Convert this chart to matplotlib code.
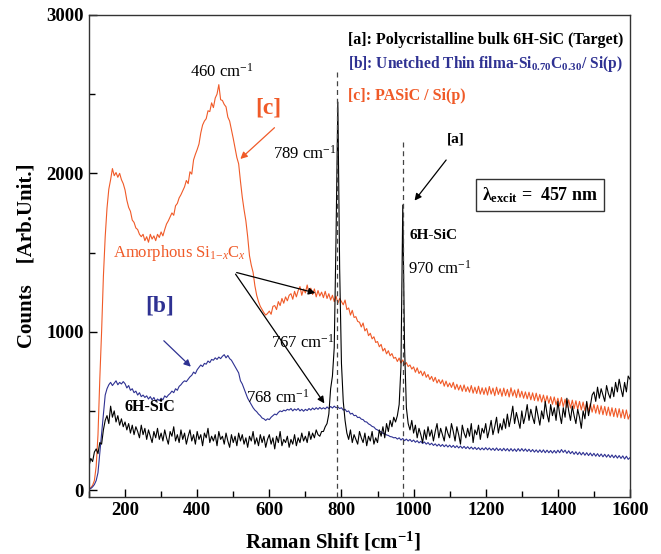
import numpy as np
import matplotlib
matplotlib.use("Agg")
import matplotlib.pyplot as plt
from matplotlib.ticker import MultipleLocator

plt.rcParams['font.family'] = ['Liberation Serif', 'DejaVu Serif']
plt.rcParams['mathtext.fontset'] = 'custom'
plt.rcParams['mathtext.rm'] = 'Liberation Serif'
plt.rcParams['mathtext.it'] = 'Liberation Serif:italic'
plt.rcParams['mathtext.bf'] = 'Liberation Serif:bold'

ORANGE = '#f05a28'
BLUE = '#2e3192'

# Raman shift grid (cm-1), 5 cm-1 step
shift = np.arange(100, 1605, 5)

# [c] PASiC / Si(p)
counts_c = [
    10, 15, 30, 60, 150, 350, 700, 1000, 1350, 1600,
    1780, 1900, 1960, 2030, 1985, 2005, 1975, 2000, 1960, 1935,
    1895, 1830, 1785, 1760, 1705, 1690, 1655, 1645, 1615, 1600,
    1615, 1575, 1600, 1565, 1615, 1585, 1605, 1575, 1615, 1595,
    1630, 1605, 1645, 1680, 1700, 1725, 1750, 1735, 1795, 1810,
    1845, 1865, 1890, 1915, 1955, 1935, 2010, 1995, 2085, 2120,
    2150, 2185, 2255, 2305, 2330, 2345, 2395, 2390, 2445, 2415,
    2475, 2500, 2560, 2465, 2460, 2435, 2420, 2355, 2330, 2275,
    2220, 2160, 2100, 2060, 1950, 1850, 1770, 1700, 1600, 1480,
    1420, 1375, 1290, 1230, 1190, 1160, 1140, 1120, 1105, 1115,
    1130, 1110, 1160, 1165, 1140, 1190, 1165, 1210, 1180, 1220,
    1195, 1230, 1240, 1205, 1255, 1220, 1260, 1285, 1230, 1270,
    1245, 1295, 1240, 1275, 1235, 1270, 1220, 1260, 1225, 1250,
    1215, 1255, 1210, 1240, 1200, 1230, 1190, 1225, 1180, 1210,
    1190, 1170, 1200, 1140, 1150, 1105, 1135, 1090, 1095, 1065,
    1060, 1030, 1055, 1005, 1020, 975, 990, 955, 968, 932,
    938, 905, 920, 878, 895, 860, 880, 848, 862, 832,
    838, 812, 834, 802, 822, 792, 805, 780, 790, 764,
    778, 744, 772, 736, 752, 722, 748, 712, 730, 698,
    718, 686, 712, 676, 698, 672, 696, 656, 688, 652,
    676, 648, 680, 636, 668, 632, 662, 624, 664, 622,
    652, 618, 660, 612, 650, 610, 656, 606, 646, 604,
    646, 600, 654, 606, 644, 596, 650, 604, 640, 592,
    644, 596, 636, 588, 646, 594, 632, 584, 638, 586,
    624, 580, 620, 576, 618, 570, 614, 566, 612, 562,
    604, 556, 600, 552, 596, 548, 590, 542, 588, 538,
    580, 532, 584, 526, 574, 522, 570, 518, 568, 514,
    564, 510, 560, 506, 556, 500, 552, 496, 546, 492,
    540, 486, 536, 480, 532, 476, 528, 472, 524, 468,
    520, 464, 516, 460, 514, 456, 508, 452, 506, 448,
    478,
]

# [b] Unetched thin film a-Si0.70C0.30 / Si(p)
counts_b = [
    5, 10, 20, 35, 60, 110, 230, 356, 480, 600,
    640, 665, 680, 660, 675, 690, 665, 680, 670, 685,
    672, 645, 660, 630, 640, 615, 625, 600, 615, 590,
    600, 585, 595, 575, 590, 570, 585, 560, 575, 565,
    580, 570, 595, 585, 600, 610, 625, 615, 640, 630,
    655, 665, 680, 690, 685, 700, 715, 725, 745, 735,
    760, 775, 790, 780, 800, 795, 815, 805, 825, 820,
    835, 825, 840, 830, 845, 855, 835, 850, 830, 820,
    800, 780, 760, 740, 690, 670, 640, 610, 580, 560,
    540, 520, 505, 495, 480, 470, 455, 450, 440, 450,
    445, 460, 470, 480, 475, 490, 500, 495, 505, 500,
    510, 505, 515, 500, 512, 504, 515, 500, 510, 498,
    510, 502, 515, 505, 518, 508, 520, 510, 522, 512,
    520, 512, 525, 515, 528, 518, 530, 520, 525, 515,
    520, 505, 510, 495, 500, 480, 485, 470, 472, 458,
    460, 448, 445, 432, 430, 418, 412, 402, 398, 385,
    380, 372, 368, 358, 356, 348, 345, 338, 336, 330,
    332, 322, 330, 316, 326, 312, 322, 310, 320, 306,
    316, 302, 312, 298, 308, 294, 304, 290, 300, 286,
    296, 282, 292, 278, 290, 276, 288, 274, 286, 272,
    284, 270, 282, 268, 280, 266, 278, 264, 276, 262,
    274, 260, 272, 258, 270, 256, 268, 254, 266, 254,
    268, 254, 266, 252, 264, 250, 266, 250, 262, 248,
    264, 248, 262, 246, 262, 246, 260, 244, 262, 246,
    262, 246, 260, 244, 258, 242, 256, 240, 254, 238,
    254, 238, 254, 236, 252, 236, 250, 234, 250, 234,
    252, 236, 256, 238, 252, 232, 248, 230, 244, 226,
    242, 224, 240, 222, 238, 220, 236, 218, 234, 216,
    232, 214, 230, 212, 228, 210, 226, 208, 224, 206,
    222, 204, 220, 202, 218, 200, 216, 196, 214, 194,
    205,
]

# [a] Polycristalline bulk 6H-SiC (target)
counts_a = [
    150, 200, 180, 240, 260, 230, 300, 290, 380, 440,
    470, 420, 530, 460, 500, 430, 470, 410, 450, 400,
    430, 380, 420, 360, 410, 350, 400, 370, 330, 410,
    350, 390, 320, 380, 340, 300, 370, 330, 390, 320,
    360, 310, 380, 330, 290, 370, 340, 400, 310, 350,
    300, 380, 320, 360, 290, 340, 380, 310, 350, 290,
    370, 320, 350, 280, 360, 330, 390, 300, 340, 310,
    350, 280, 370, 320, 340, 290, 360, 310, 270, 350,
    300, 340, 280, 360, 310, 350, 290, 330, 270, 340,
    310, 370, 290, 330, 280, 350, 300, 340, 270, 320,
    350, 290, 330, 260, 340, 300, 370, 280, 320, 300,
    340, 270, 320, 290, 350, 280, 330, 300, 360, 310,
    340, 300, 370, 320, 360, 330, 380, 350, 340, 370,
    370, 400, 420, 480, 640, 720, 900, 1600, 2450, 1400,
    800, 560, 440, 360, 320, 380, 300, 350, 320, 290,
    370, 330, 300, 360, 280, 340, 310, 370, 290, 330,
    300, 380, 340, 400, 330, 420, 370, 440, 400, 460,
    430, 470, 540, 780, 1800, 900, 520, 420, 380, 440,
    360, 410, 330, 390, 350, 300, 380, 320, 400, 340,
    380, 310, 370, 420, 330, 390, 350, 310, 400, 360,
    330, 420, 370, 310, 400, 350, 290, 410, 360, 330,
    390, 340, 420, 300, 380, 350, 410, 320, 390, 360,
    420, 330, 380, 440, 350, 400, 460, 360, 420, 380,
    450, 390, 480, 400, 460, 530, 420, 490, 440, 390,
    500, 420, 470, 540, 440, 510, 460, 420, 530, 470,
    410, 500, 450, 560, 480, 430, 540, 470, 520, 440,
    560, 480, 420, 520, 460, 580, 500, 440, 530, 470,
    420, 510, 460, 390, 500, 450, 560, 470, 530, 600,
    620, 560, 650, 580, 640, 600, 560, 660, 610, 580,
    650, 590, 680, 620, 700, 640, 590, 680, 620, 720,
    700,
]

peak_pos = [789, 970]
peak_top = [2650, 2200]

fig = plt.figure(figsize=(6.61, 5.54), dpi=100)
ax = fig.add_axes([0.1346, 0.1025, 0.8185, 0.8705])

ax.plot(shift, counts_c, color=ORANGE, lw=0.8)
ax.plot(shift, counts_b, color=BLUE, lw=0.8)
ax.plot(shift, counts_a, color='black', lw=0.8)

for p, t in zip(peak_pos, peak_top):
    ax.plot([p, p], [-45, t], color='#444444', lw=0.9, ls=(0, (4, 3)))

ax.set_xlim(100, 1600)
ax.set_ylim(-45, 3000)
ax.xaxis.set_major_locator(MultipleLocator(200))
ax.xaxis.set_minor_locator(MultipleLocator(100))
ax.yaxis.set_major_locator(MultipleLocator(1000))
ax.yaxis.set_minor_locator(MultipleLocator(500))
ax.tick_params(which='both', direction='in', top=False, right=False,
               labelsize=13.5, width=1.0)
ax.tick_params(which='major', length=6)
ax.tick_params(which='minor', length=4)
for lab in ax.get_xticklabels() + ax.get_yticklabels():
    lab.set_fontweight('bold')
for s in ax.spines.values():
    s.set_color('#333333')
    s.set_linewidth(1.0)

ax.set_xlabel('Raman Shift [cm$^{\\mathbf{-1}}$]', fontsize=15, fontweight='bold')
ax.xaxis.set_label_coords(0.451, -0.068)
ax.set_ylabel('Counts    [Arb.Unit.]', fontsize=15, fontweight='bold')
ax.yaxis.set_label_coords(-0.097, 0.5)

# legend-like labels
ax.text(818, 2842, '[a]: Polycristalline bulk 6H-SiC (Target)', fontsize=11.5,
        fontweight='bold', color='black', va='center')
ax.text(818, 2690, '[b]: Unetched Thin filma-Si$_{\\mathbf{0.70}}$C$_{\\mathbf{0.30}}$/ Si(p)',
        fontsize=11.2, fontweight='bold', color=BLUE, va='center')
ax.text(818, 2489, '[c]: PASiC / Si(p)', fontsize=11.5, fontweight='bold',
        color=ORANGE, va='center')

# peak annotations
ax.text(469, 2640, '460 cm$^{-1}$', fontsize=12, ha='center', va='center')
ax.text(699, 2123, '789 cm$^{-1}$', fontsize=12, ha='center', va='center')
ax.text(1073, 1397, '970 cm$^{-1}$', fontsize=12, ha='center', va='center')
ax.text(693, 932, '767 cm$^{-1}$', fontsize=12, ha='center', va='center')
ax.text(624, 585, '768 cm$^{-1}$', fontsize=12, ha='center', va='center')
ax.text(1054, 1606, '6H-SiC', fontsize=11, fontweight='bold', ha='center', va='center')
ax.text(269, 522, '6H-SiC', fontsize=11.5, fontweight='bold', ha='center', va='center')
ax.text(352, 1498, 'Amorphous Si$_{1\\mathrm{-}x}$C$_x$', fontsize=12, color=ORANGE,
        ha='center', va='center')

ax.text(596, 2413, '[c]', fontsize=17, fontweight='bold', color=ORANGE,
        ha='center', va='center')
ax.text(297, 1164, '[b]', fontsize=17, fontweight='bold', color=BLUE,
        ha='center', va='center')
ax.text(1118, 2218, '[a]', fontsize=11, fontweight='bold', ha='center', va='center')

ax.annotate('', xy=(514, 2079), xytext=(620, 2300),
            arrowprops=dict(arrowstyle='-|>', color=ORANGE, lw=0.9, mutation_scale=10))
ax.annotate('', xy=(388, 767), xytext=(302, 955),
            arrowprops=dict(arrowstyle='-|>', color=BLUE, lw=0.9, mutation_scale=10))
ax.annotate('', xy=(998, 1814), xytext=(1095, 2098),
            arrowprops=dict(arrowstyle='-|>', color='black', lw=0.9, mutation_scale=10))
ax.annotate('', xy=(735, 1240), xytext=(502, 1378),
            arrowprops=dict(arrowstyle='-|>', color='black', lw=0.9, mutation_scale=10))
ax.annotate('', xy=(757, 533), xytext=(502, 1378),
            arrowprops=dict(arrowstyle='-|>', color='black', lw=0.9, mutation_scale=10))

ax.text(1351, 1864, '$\\mathbf{\\lambda_{excit}}$ =  457 nm', fontsize=13,
        fontweight='bold', ha='center', va='center',
        bbox=dict(boxstyle='square,pad=0.35', fc='white', ec='#333333', lw=1.0))

fig.savefig('out.png', dpi=100)
